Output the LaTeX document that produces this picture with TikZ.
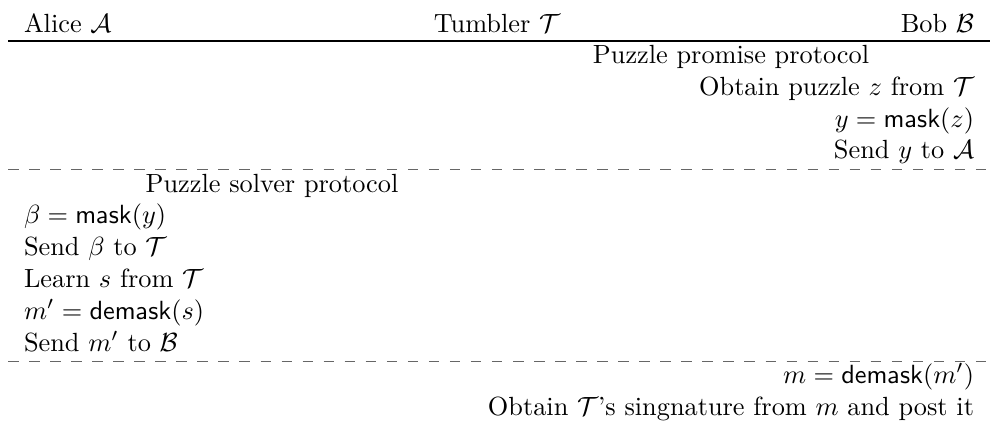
\documentclass[tikz,border=0pt]{standalone}
\usepackage{amsmath}
\begin{document}
\begin{tikzpicture}[x=0.3802pt, y=-0.3802pt,
    cell/.style={inner sep=0pt, outer sep=0pt},
    lft/.style={cell, anchor=base west},
    rgt/.style={cell, anchor=base east},
    mid/.style={cell, anchor=base},
    rulesolid/.style={line width=0.4pt},
    ruledash/.style={line width=0.4pt, black!60, dash pattern=on 4pt off 4pt}]
  \useasboundingbox (0,0) rectangle (990,421);

  % header row
  \node[lft] (alice) at (24,32) {Alice $\mathcal{A}$};
  \node[mid] (tumbler) at (497,32) {Tumbler $\mathcal{T}$};
  \node[rgt] (bob) at (974,32) {Bob $\mathcal{B}$};

  \coordinate (r1l) at (8,41);
  \coordinate (r1r) at (990,41);
  \draw[rulesolid] (r1l) -- (r1r);

  % puzzle promise protocol
  \node[mid] (promise) at (731,63.5) {Puzzle promise protocol};
  \node[rgt] (b1) at (974,95.3) {Obtain puzzle $z$ from $\mathcal{T}$};
  \node[rgt] (b2) at (974,127.1) {$y = \mathsf{mask}(z)$};
  \node[rgt] (b3) at (974,158.9) {Send $y$ to $\mathcal{A}$};

  \coordinate (r2l) at (8,169.5);
  \coordinate (r2r) at (990,169.5);
  \draw[ruledash] (r2l) -- (r2r);

  % puzzle solver protocol
  \node[mid] (solver) at (272,192) {Puzzle solver protocol};
  \node[lft] (a1) at (24,223.8) {$\beta = \mathsf{mask}(y)$};
  \node[lft] (a2) at (24,255.6) {Send $\beta$ to $\mathcal{T}$};
  \node[lft] (a3) at (24,287.4) {Learn $s$ from $\mathcal{T}$};
  \node[lft] (a4) at (24,319.2) {$m' = \mathsf{demask}(s)$};
  \node[lft] (a5) at (24,351) {Send $m'$ to $\mathcal{B}$};

  \coordinate (r3l) at (8,361.5);
  \coordinate (r3r) at (990,361.5);
  \draw[ruledash] (r3l) -- (r3r);

  % closing steps
  \node[rgt] (b4) at (974,383.5) {$m = \mathsf{demask}(m')$};
  \node[rgt] (b5) at (974,415) {Obtain $\mathcal{T}$'s singnature from $m$ and post it};
\end{tikzpicture}
\end{document}
